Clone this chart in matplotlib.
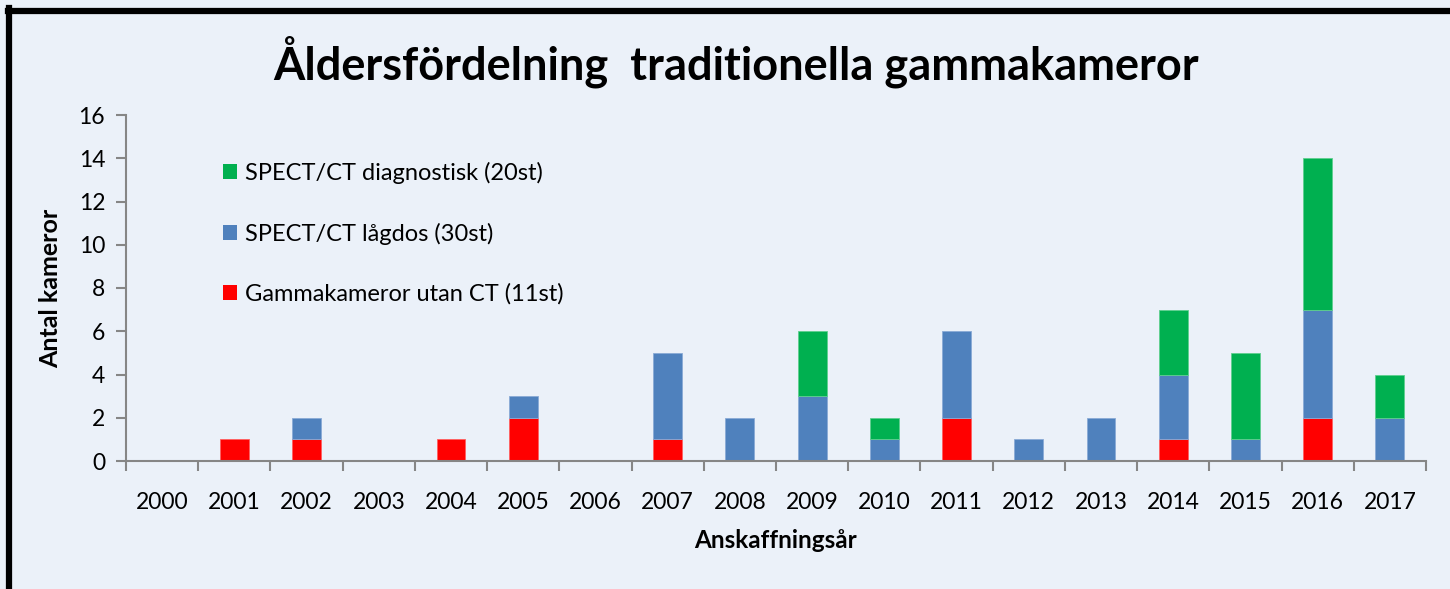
import matplotlib
matplotlib.use("Agg")
import matplotlib.pyplot as plt
import numpy as np
from matplotlib.lines import Line2D

years = [str(y) for y in range(2000, 2018)]
gamma_utan_ct = [0, 1, 1, 0, 1, 2, 0, 1, 0, 0, 0, 2, 0, 0, 1, 0, 2, 0]
spect_lagdos = [0, 0, 1, 0, 0, 1, 0, 4, 2, 3, 1, 4, 1, 2, 3, 1, 5, 2]
spect_diag = [0, 0, 0, 0, 0, 0, 0, 0, 0, 3, 1, 0, 0, 0, 3, 4, 7, 2]
labels = ["Gammakameror utan CT (11st)", "SPECT/CT lågdos (30st)", "SPECT/CT diagnostisk (20st)"]
colors = ["#FF0000", "#4F81BD", "#00B050"]
edges = ["#FF6060", "#8AAAD6", "#5FCF8F"]

bg = "#EBF1F9"
plt.rcParams['font.family'] = ['Lato', 'DejaVu Sans']

fig = plt.figure(figsize=(14.5, 5.89), dpi=100, facecolor=bg)
ax = fig.add_axes([126/1450, 1-461/589, (1426-126)/1450, (461-115)/589])
ax.set_facecolor(bg)

x = np.arange(len(years))
bottom = np.zeros(len(years))
w = 0.4
for vals, c, e, lab in zip([gamma_utan_ct, spect_lagdos, spect_diag], colors, edges, labels):
    v = np.array(vals, dtype=float)
    lws = [0.6 if val > 0 else 0 for val in v]
    ax.bar(x, v, w, bottom=bottom, color=c, label=lab, edgecolor=e, linewidth=lws)
    bottom = bottom + v

ax.set_xlim(-0.5, len(years) - 0.5)
ax.set_ylim(0, 16)
ax.set_yticks(range(0, 17, 2))
ax.set_xticks(x)
ax.set_xticklabels(years)
ax.set_xticks(np.arange(-0.5, len(years), 1), minor=True)
ax.tick_params(axis='x', which='major', length=0, pad=22, labelsize=16.5)
ax.tick_params(axis='x', which='minor', length=7, width=1.5, color="#868686", direction='out')
ax.tick_params(axis='y', length=7, width=1.5, color="#868686", labelsize=16.5, pad=8)
for s in ['top', 'right']:
    ax.spines[s].set_visible(False)
for s in ['left', 'bottom']:
    ax.spines[s].set_color("#868686")
    ax.spines[s].set_linewidth(1.5)

ax.set_xlabel("Anskaffningsår", fontsize=17.5, fontweight='bold', labelpad=12)
ax.set_ylabel("Antal kameror", fontsize=18, fontweight='bold', labelpad=12)

fig.text(736/1450, 1-62/589, "Åldersfördelning  traditionella gammakameror", ha='center', va='center',
         fontsize=32.5, fontweight='bold')

handles, lbls = ax.get_legend_handles_labels()
leg = ax.legend(handles[::-1], lbls[::-1], loc='upper left', bbox_to_anchor=(0.058, 0.925),
                frameon=False, fontsize=17, labelspacing=1.63, handlelength=0.6, handleheight=0.6,
                handletextpad=0.35)

# frame lines (top and left)
fig.add_artist(Line2D([8/1450, 1.0], [1-10.5/589, 1-10.5/589], transform=fig.transFigure, color='black', lw=4.5))
fig.add_artist(Line2D([8.5/1450, 8.5/1450], [0, 1-8/589], transform=fig.transFigure, color='black', lw=4.5))

fig.savefig("out.png", dpi=100, facecolor=bg)
